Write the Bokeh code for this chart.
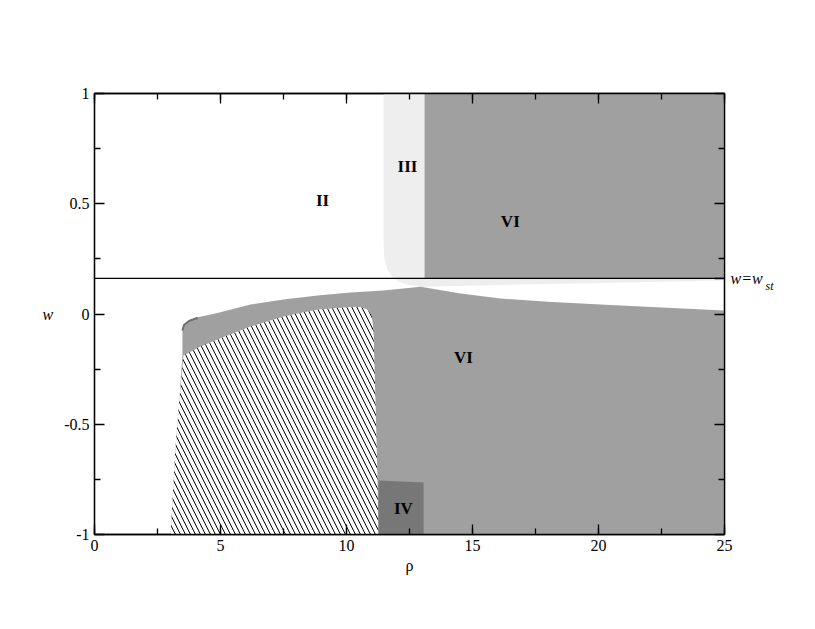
from bokeh.plotting import figure
from bokeh.models import (Range1d, LinearAxis, SingleIntervalTicker, FixedTicker, ColumnDataSource)
from bokeh.core.properties import value
from bokeh.embed import file_html
from bokeh.resources import INLINE

# ---------------- data ----------------
x_ticks = [0, 5, 10, 15, 20, 25]
y_ticks = [-1, -0.5, 0, 0.5, 1]
y_minor = [-0.75, -0.25, 0.25, 0.75]
y_tick_labels = ["-1", "-0.5", "0", "0.5", "1"]

w_st = 0.162
w_st_text = "w=w"
w_st_sub = "st"
w_st_sub_pos = 0.126

# region III (light grey), boundary
III_rho = [11.47, 11.47, 11.51, 11.63, 11.79, 12.06, 12.46, 12.94, 16.11, 20.08, 25.0, 25.0]
III_w = [1.0, 0.315, 0.247, 0.202, 0.170, 0.147, 0.132, 0.124, 0.132, 0.141, 0.152, 1.0]

# region VI upper
VIu_rho = [13.1, 25.0, 25.0, 13.1]
VIu_w = [w_st, w_st, 1.0, 1.0]

# region VI lower: top boundary then bottom / left edge
VIl_top_rho = [3.49, 3.55, 3.75, 4.1, 4.88, 6.19, 7.5, 8.85, 10.16, 11.47, 12.94, 14.52, 16.11, 18.0, 20.08, 22.5, 25.0]
VIl_top_w = [-0.07, -0.048, -0.03, -0.015, 0.005, 0.043, 0.066, 0.084, 0.098, 0.107, 0.124, 0.093, 0.07, 0.055, 0.043, 0.03, 0.016]
VIl_low_rho = [25.0, 3.02, 3.21, 3.37, 3.49]
VIl_low_w = [-1.0, -1.0, -0.615, -0.388, -0.184]

# dark rim at left cap
rim_rho = [3.49, 3.55, 3.75, 4.1]
rim_w = [-0.075, -0.05, -0.032, -0.017]

# hatched region
hatch_rho = [3.02, 3.21, 3.37, 3.53, 4.21, 4.88, 6.19, 7.5, 8.85, 10.16, 10.56, 10.83, 11.0, 11.07, 11.15, 11.23, 11.27]
hatch_w = [-1.0, -0.615, -0.388, -0.188, -0.147, -0.116, -0.057, -0.011, 0.020, 0.032, 0.032, 0.020, -0.007, -0.070, -0.388, -0.751, -1.0]

# region IV
IV_rho = [11.27, 13.06, 13.06, 11.27]
IV_w = [-0.755, -0.764, -1.0, -1.0]

region_labels = ["II", "III", "VI", "VI", "IV"]
label_rho = [9.05, 12.42, 16.5, 14.64, 12.26]
label_w = [0.515, 0.669, 0.42, -0.197, -0.882]

# ---------------- figure ----------------
SERIF = "Liberation Serif"

p = figure(output_backend="svg", toolbar_location=None,
           frame_width=630, frame_height=441,
           min_border_left=94, min_border_top=93, min_border_right=84, min_border_bottom=80,
           x_range=Range1d(0, 25), y_range=Range1d(-1, 1),
           x_axis_label="ρ", y_axis_label="w")
p.grid.visible = False
p.background_fill_color = "white"
p.border_fill_color = "white"
p.outline_line_color = "black"
p.outline_line_width = 1.3

p.patch(III_rho, III_w, fill_color="#eeeeee", line_color=None)
p.patch(VIu_rho, VIu_w, fill_color="#a0a0a0", line_color=None)
p.patch(VIl_top_rho + VIl_low_rho, VIl_top_w + VIl_low_w, fill_color="#a0a0a0", line_color=None)
p.line(rim_rho, rim_w, line_color="#707070", line_width=2)
p.patch(hatch_rho, hatch_w, fill_color="white", line_color=None,
        hatch_pattern="\\", hatch_color="black", hatch_scale=10, hatch_weight=1)
p.patch(IV_rho, IV_w, fill_color="#777777", line_color=None)
p.line([0, 25], [w_st, w_st], line_color="black", line_width=1.3)

src = ColumnDataSource(dict(x=label_rho, y=label_w, t=region_labels))
p.text("x", "y", text="t", source=src, text_font=value(SERIF), text_font_style="bold",
       text_font_size="17px", text_align="center", text_baseline="middle", text_color="black")

# axes styling
p.xaxis.ticker = SingleIntervalTicker(interval=5, num_minor_ticks=2)
p.yaxis.ticker = FixedTicker(ticks=y_ticks, minor_ticks=y_minor)
p.yaxis.major_label_overrides = {v: s for v, s in zip(y_ticks, y_tick_labels)}
p.xaxis.major_label_overrides = {v: str(v) for v in x_ticks}


def style_ticks(ax):
    ax.major_tick_in = 10
    ax.major_tick_out = 0
    ax.minor_tick_in = 6
    ax.minor_tick_out = 0
    ax.axis_line_color = "black"
    ax.axis_line_width = 1.3
    ax.major_tick_line_width = 1.3
    ax.minor_tick_line_width = 1.3


for ax in [p.xaxis[0], p.yaxis[0]]:
    style_ticks(ax)
    ax.major_label_text_font = SERIF
    ax.major_label_text_font_size = "16px"
    ax.major_label_text_color = "black"
    ax.major_label_standoff = 5
    ax.axis_label_text_font = SERIF
    ax.axis_label_text_font_size = "16px"
    ax.axis_label_text_font_style = "normal"
    ax.axis_label_text_color = "black"

p.xaxis.axis_label_standoff = 3
p.yaxis.axis_label_standoff = 8
p.yaxis.axis_label_orientation = "horizontal"
p.yaxis.axis_label_text_font_style = "italic"

top = LinearAxis(ticker=SingleIntervalTicker(interval=5, num_minor_ticks=2))
style_ticks(top)
top.major_label_text_font_size = "0px"
top.major_label_text_alpha = 0
p.add_layout(top, "above")

# right axis: ticks plus the w = w_st marker label
right = LinearAxis(ticker=FixedTicker(ticks=y_ticks + [w_st], minor_ticks=y_minor))
style_ticks(right)
right.major_label_overrides = {**{v: "" for v in y_ticks}, w_st: w_st_text}
right.major_label_text_font = SERIF
right.major_label_text_font_style = "italic"
right.major_label_text_font_size = "16px"
right.major_label_text_color = "black"
right.major_label_standoff = 6
p.add_layout(right, "right")

right2 = LinearAxis(ticker=FixedTicker(ticks=[w_st_sub_pos], minor_ticks=[]))
right2.axis_line_color = None
right2.major_tick_line_color = None
right2.minor_tick_line_color = None
right2.major_tick_in = 0
right2.major_tick_out = 0
right2.major_label_overrides = {w_st_sub_pos: w_st_sub}
right2.major_label_text_font = SERIF
right2.major_label_text_font_style = "italic"
right2.major_label_text_font_size = "12px"
right2.major_label_text_color = "black"
right2.major_label_standoff = 0
p.add_layout(right2, "right")

open("out.html", "w").write(file_html(p, INLINE))
